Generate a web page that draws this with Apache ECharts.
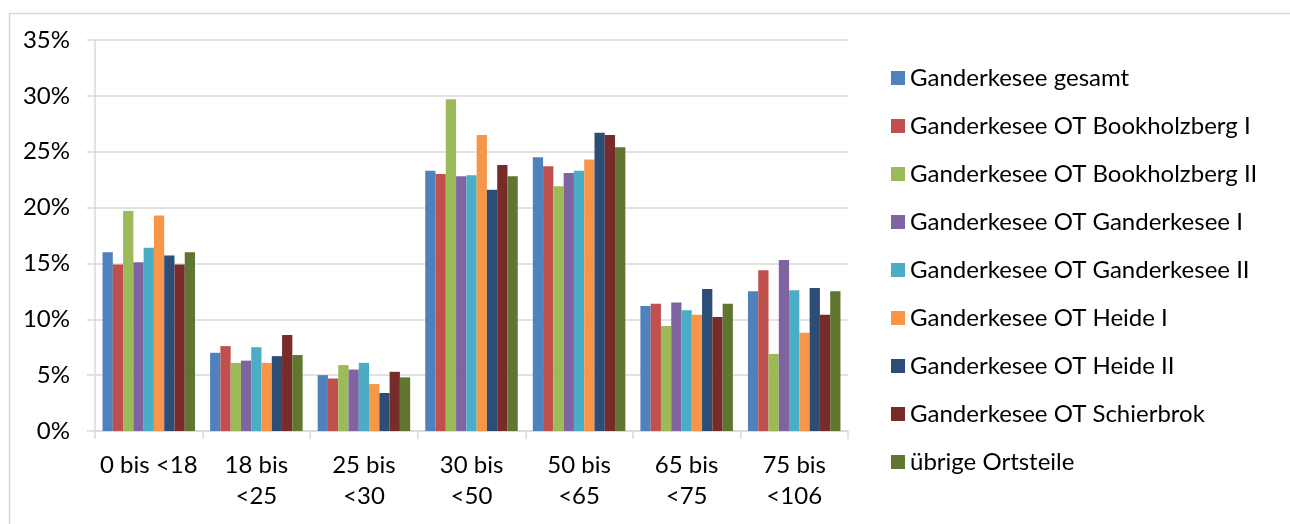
<!DOCTYPE html>
<html>
<head>
<meta charset="utf-8">
<script src="https://cdn.jsdelivr.net/npm/echarts@6/dist/echarts.min.js"></script>
<style>
html,body{margin:0;padding:0;background:#fff;}
#chart{width:1290px;height:524px;}
</style>
</head>
<body>
<div id="chart"></div>
<script>
const categories = ["0 bis <18", "18 bis\n<25", "25 bis\n<30", "30 bis\n<50", "50 bis\n<65", "65 bis\n<75", "75 bis\n<106"];
const seriesNames = ["Ganderkesee gesamt", "Ganderkesee OT Bookholzberg I", "Ganderkesee OT Bookholzberg II", "Ganderkesee OT Ganderkesee I", "Ganderkesee OT Ganderkesee II", "Ganderkesee OT Heide I", "Ganderkesee OT Heide II", "Ganderkesee OT Schierbrok", "übrige Ortsteile"];
const colors = ["#4F81BD", "#C0504D", "#9BBB59", "#8064A2", "#4BACC6", "#F79646", "#2C4D75", "#772C2A", "#5F7530"];
const gesamt       = [16.0, 7.0, 5.0, 23.3, 24.5, 11.2, 12.5];
const bookholzberg1 = [14.9, 7.6, 4.7, 23.0, 23.7, 11.4, 14.4];
const bookholzberg2 = [19.7, 6.1, 5.9, 29.7, 21.9, 9.4, 6.9];
const ganderkesee1 = [15.1, 6.3, 5.5, 22.8, 23.1, 11.5, 15.3];
const ganderkesee2 = [16.4, 7.5, 6.1, 22.9, 23.3, 10.8, 12.6];
const heide1       = [19.3, 6.1, 4.2, 26.5, 24.3, 10.4, 8.8];
const heide2       = [15.7, 6.7, 3.4, 21.6, 26.7, 12.7, 12.8];
const schierbrok   = [14.9, 8.6, 5.3, 23.8, 26.5, 10.2, 10.4];
const uebrige      = [16.0, 6.8, 4.8, 22.8, 25.4, 11.4, 12.5];
const allValues = [gesamt, bookholzberg1, bookholzberg2, ganderkesee1, ganderkesee2, heide1, heide2, schierbrok, uebrige];
const yTicks = {min: 0, max: 35, interval: 5};

const FONT = "Lato";
const chart = echarts.init(document.getElementById('chart'), null, {renderer: 'canvas'});
chart.setOption({
  animation: false,
  backgroundColor: '#ffffff',
  color: colors,
  textStyle: {fontFamily: FONT},
  graphic: [{
    type: 'rect', left: 7, top: 11, z: -1,
    shape: {width: 1320, height: 600},
    style: {fill: 'none', stroke: '#d9d9d9', lineWidth: 1.5}
  }],
  grid: {left: 95, right: 442, top: 40, bottom: 93, containLabel: false},
  legend: {
    orient: 'vertical', left: 891, top: 66, padding: 0,
    itemWidth: 14, itemHeight: 14, itemGap: 24, itemTextGap: 6,
    icon: 'rect',
    textStyle: {fontFamily: FONT, fontSize: 24, color: '#000', lineHeight: 24},
    data: seriesNames
  },
  xAxis: {
    type: 'category', data: categories,
    axisLine: {lineStyle: {color: '#d9d9d9', width: 1.5}},
    axisTick: {show: true, length: 8, lineStyle: {color: '#d9d9d9', width: 1.5}},
    axisLabel: {fontFamily: FONT, fontSize: 24, color: '#000', lineHeight: 31, margin: 19, interval: 0}
  },
  yAxis: {
    type: 'value', min: yTicks.min, max: yTicks.max, interval: yTicks.interval,
    axisLine: {show: true, lineStyle: {color: '#d9d9d9', width: 1.5}},
    axisTick: {show: true, length: 8, lineStyle: {color: '#d9d9d9', width: 1.5}},
    splitLine: {show: true, lineStyle: {color: '#d9d9d9', width: 1.5}},
    axisLabel: {fontFamily: FONT, fontSize: 24, color: '#000', margin: 25, formatter: v => v + '%'}
  },
  series: seriesNames.map((name, i) => ({
    name: name, type: 'bar', data: allValues[i],
    barGap: '0%', barCategoryGap: '14%',
    itemStyle: {color: colors[i]}
  }))
});
</script>
</body>
</html>
